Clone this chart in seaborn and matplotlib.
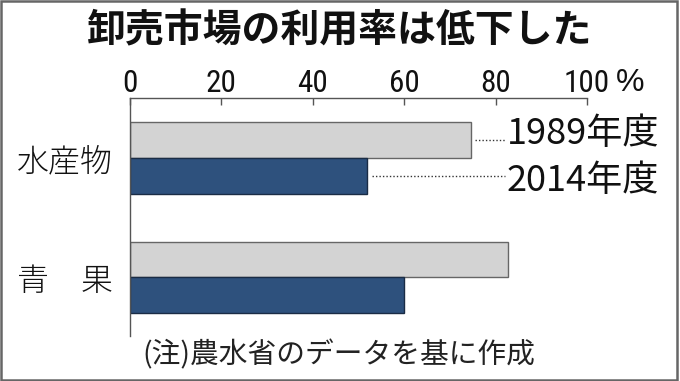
import pandas as pd
import matplotlib
matplotlib.use("Agg")
import matplotlib.pyplot as plt
import seaborn as sns
from matplotlib.patches import Rectangle

# data
items = ["水産物", "青　果"]
years = ["1989年度", "2014年度"]
rate_1989 = [74.6, 82.7]
rate_2014 = [51.9, 60.0]
x_ticks = [0, 20, 40, 60, 80, 100]

title = "卸売市場の利用率は低下した"
note = "(注)農水省のデータを基に作成"

df = pd.DataFrame({
    "item": items * 2,
    "year": [years[0]] * len(items) + [years[1]] * len(items),
    "rate": rate_1989 + rate_2014,
})

sns.set_theme(style="white")
plt.rcParams["font.family"] = ["Noto Sans CJK JP", "DejaVu Sans"]

fill_colors = ["#d3d3d3", "#21508a"]
edge_colors = ["#666666", "#1a2c45"]
num_font = ["Liberation Sans Narrow", "Roboto Condensed", "DejaVu Sans Condensed",
            "Liberation Sans"]

fig = plt.figure(figsize=(6.8, 3.81), dpi=100)
ax = fig.add_axes([0.1912, 0.1181, 0.672, 0.6247])

sns.barplot(data=df, x="rate", y="item", hue="year", orient="h",
            palette=fill_colors, width=0.6, legend=False, ax=ax)

for cont, ec in zip(ax.containers, edge_colors):
    for bar in cont:
        bar.set_edgecolor(ec)
        bar.set_linewidth(1)

ax.set_xlim(0, 100)
ax.set_ylim(1.49, -0.5)
ax.set_xlabel("")
ax.set_ylabel("")

# axis on top, ticks pointing down
ax.xaxis.tick_top()
ax.set_xticks(x_ticks)
ax.set_xticklabels([str(t) for t in x_ticks], family=num_font, fontsize=22.5)
ax.tick_params(axis="x", direction="in", length=5, width=1, color="#555555",
               pad=0, labelcolor="#111111")
ax.tick_params(axis="y", length=0, pad=12, labelsize=23, labelcolor="#111111")
for lab in ax.get_yticklabels():
    lab.set_fontweight("light")

for side in ["right", "bottom"]:
    ax.spines[side].set_visible(False)
ax.spines["top"].set_color("#555555")
ax.spines["left"].set_color("#555555")
ax.spines["top"].set_linewidth(1)
ax.spines["left"].set_linewidth(1)

ax.annotate("%", xy=(100, 1), xycoords=("data", "axes fraction"),
            xytext=(21, 0), textcoords="offset points",
            ha="left", va="bottom", fontsize=23, family="Liberation Sans",
            color="#111111", annotation_clip=False)

# year labels with dotted leader lines from the first category bars
label_x = 82.5
offsets = [-4, 4]
for cont, year, off in zip(ax.containers, years, offsets):
    bar = cont[0]
    yc = bar.get_y() + bar.get_height() / 2
    end = bar.get_width()
    ax.plot([end + 1, label_x - 0.5], [yc, yc], color="#333333", lw=1,
            linestyle=(0, (1, 1.5)), clip_on=False)
    ax.annotate(year, xy=(label_x, yc), xytext=(0, -off),
                textcoords="offset points", ha="left", va="center",
                fontsize=26, color="#111111", annotation_clip=False)

fig.text(0.5, 0.919, title, ha="center", va="center", fontsize=28,
         fontweight="bold", color="#111111")
fig.text(0.209, 0.068, note, ha="left", va="center", fontsize=20.7,
         color="#222222")

fig.patches.append(Rectangle((0.002, 0.003), 0.994, 0.994, transform=fig.transFigure,
                             fill=False, edgecolor="#666666", lw=1.8))

fig.savefig("out.png", dpi=100)
